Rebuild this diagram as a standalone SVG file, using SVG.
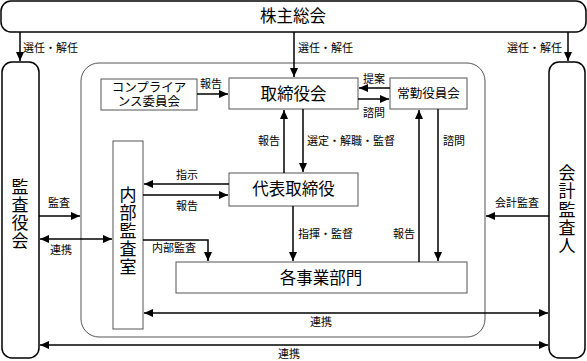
<svg xmlns="http://www.w3.org/2000/svg" width="587" height="361" viewBox="0 0 587 361">
<style>
.ob{fill:#fff;stroke:#000;stroke-width:1.5}
.ib{fill:#fff;stroke:#555;stroke-width:1}
.ln{fill:none;stroke:#000;stroke-width:1.5}
.t{font-family:"Liberation Serif","Noto Sans CJK JP",serif;fill:#000}
.lb{font-size:11px}
.big{font-size:16.5px}
.md{font-size:12.5px}
</style>
<defs>
<marker id="ah" markerUnits="userSpaceOnUse" markerWidth="10" markerHeight="10" refX="9" refY="5" orient="auto-start-reverse" viewBox="0 0 10 10">
<path d="M0,1 L9,5 L0,9 Z" fill="#000"/>
</marker>
</defs>
<rect width="587" height="361" fill="#fff"/>
<g id="container"><rect x="81" y="63" width="404" height="274" rx="18" fill="none" stroke="#555" stroke-width="1"/></g>
<g id="shareholders"><rect class="ob" x="1" y="1" width="585" height="31" rx="10"/><text class="t big" x="293" y="22" text-anchor="middle">株主総会</text></g>
<g id="auditors"><rect class="ob" x="2" y="62" width="37" height="296" rx="10"/><text class="t" font-size="17" text-anchor="middle"><tspan x="20" y="193">監</tspan><tspan x="20" y="211">査</tspan><tspan x="20" y="229">役</tspan><tspan x="20" y="247">会</tspan></text></g>
<g id="accountant"><rect class="ob" x="549" y="62" width="36" height="296" rx="10"/><text class="t" font-size="17" text-anchor="middle"><tspan x="567" y="179">会</tspan><tspan x="567" y="197">計</tspan><tspan x="567" y="216">監</tspan><tspan x="567" y="234">査</tspan><tspan x="567" y="252">人</tspan></text></g>
<g id="compliance"><rect class="ib" x="101" y="79" width="96" height="31"/><text class="t md" text-anchor="middle"><tspan x="149" y="92">コンプライア</tspan><tspan x="149" y="106">ンス委員会</tspan></text></g>
<g id="board"><rect class="ib" x="229" y="78" width="129" height="31"/><text class="t big" x="293.5" y="100" text-anchor="middle">取締役会</text></g>
<g id="executive"><rect class="ib" x="390" y="78" width="77" height="31"/><text class="t md" x="428.5" y="98" text-anchor="middle">常勤役員会</text></g>
<g id="president"><rect class="ib" x="229" y="173" width="129" height="33"/><text class="t big" x="293.5" y="195" text-anchor="middle">代表取締役</text></g>
<g id="internal-audit"><rect class="ib" x="113" y="141" width="30" height="188"/><text class="t" font-size="17" text-anchor="middle"><tspan x="128" y="201">内</tspan><tspan x="128" y="219">部</tspan><tspan x="128" y="237">監</tspan><tspan x="128" y="255">査</tspan><tspan x="128" y="273">室</tspan></text></g>
<g id="divisions"><rect class="ib" x="176" y="262" width="291" height="31"/><text class="t big" x="321" y="284" text-anchor="middle">各事業部門</text></g>
<g id="connectors">
<path class="ln" d="M20,32 V61" marker-end="url(#ah)"/>
<path class="ln" d="M294,32 V77" marker-end="url(#ah)"/>
<path class="ln" d="M568,32 V61" marker-end="url(#ah)"/>
<path class="ln" d="M197,94 H228" marker-end="url(#ah)"/>
<path class="ln" d="M390,88 H359" marker-end="url(#ah)"/>
<path class="ln" d="M358,99 H389" marker-end="url(#ah)"/>
<path class="ln" d="M284,173 V110" marker-end="url(#ah)"/>
<path class="ln" d="M303,109 V172" marker-end="url(#ah)"/>
<path class="ln" d="M419,262 V110" marker-end="url(#ah)"/>
<path class="ln" d="M438,109 V261" marker-end="url(#ah)"/>
<path class="ln" d="M229,184 H144" marker-end="url(#ah)"/>
<path class="ln" d="M143,195 H228" marker-end="url(#ah)"/>
<path class="ln" d="M39,216 H80" marker-end="url(#ah)"/>
<path class="ln" d="M40,239 H112" marker-start="url(#ah)" marker-end="url(#ah)"/>
<path class="ln" d="M143,240 H208 V261" marker-end="url(#ah)"/>
<path class="ln" d="M293,206 V261" marker-end="url(#ah)"/>
<path class="ln" d="M144,313 H548" marker-start="url(#ah)" marker-end="url(#ah)"/>
<path class="ln" d="M40,345 H548" marker-start="url(#ah)" marker-end="url(#ah)"/>
<path class="ln" d="M549,216 H486" marker-end="url(#ah)"/>
</g>
<g id="labels" class="t lb">
<text x="23" y="52">選任・解任</text>
<text x="298" y="52">選任・解任</text>
<text x="507" y="52">選任・解任</text>
<text x="200" y="88">報告</text>
<text x="363" y="83">提案</text>
<text x="363" y="117">諮問</text>
<text x="258" y="145">報告</text>
<text x="307" y="145">選定・解職・監督</text>
<text x="443" y="145">諮問</text>
<text x="176" y="179">指示</text>
<text x="176" y="210">報告</text>
<text x="48" y="207">監査</text>
<text x="50" y="254">連携</text>
<text x="152" y="252">内部監査</text>
<text x="298" y="238">指揮・監督</text>
<text x="393" y="238">報告</text>
<text x="495" y="207">会計監査</text>
<text x="310" y="326">連携</text>
<text x="278" y="358">連携</text>
</g>
</svg>
